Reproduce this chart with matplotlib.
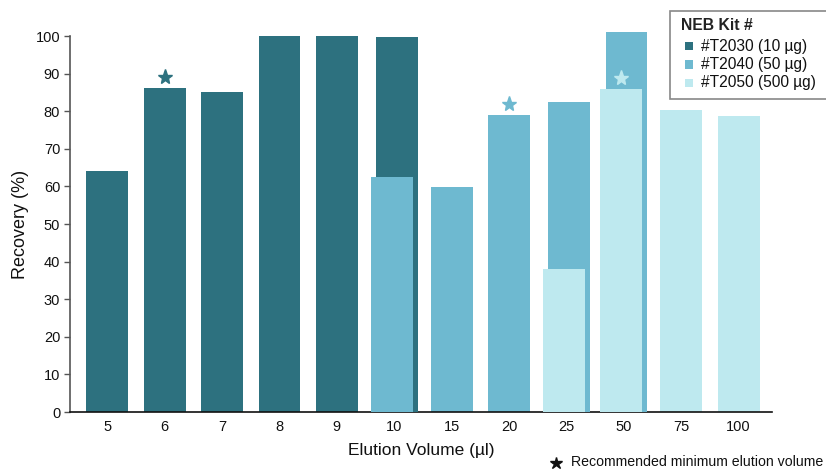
import matplotlib
matplotlib.use("Agg")
import matplotlib.pyplot as plt
from matplotlib.patches import Rectangle
from matplotlib.lines import Line2D

plt.rcParams['font.family'] = ['Liberation Sans', 'DejaVu Sans']

categories = ["5", "6", "7", "8", "9", "10", "15", "20", "25", "50", "75", "100"]

kit_names = ["#T2030 (10 µg)", "#T2040 (50 µg)", "#T2050 (500 µg)"]
kit_colors = ["#2D717F", "#6EB9D0", "#BEE9EF"]

t2030_cats = ["5", "6", "7", "8", "9", "10"]
t2030_vals = [64.1, 86.2, 85.1, 100.0, 100.0, 99.7]
t2040_cats = ["10", "15", "20", "25", "50"]
t2040_vals = [62.5, 59.8, 79.0, 82.4, 101.0]
t2050_cats = ["25", "50", "75", "100"]
t2050_vals = [38.0, 85.9, 80.3, 78.8]

recommended = {"#T2030 (10 µg)": "6", "#T2040 (50 µg)": "20", "#T2050 (500 µg)": "50"}

series = [(t2030_cats, t2030_vals), (t2040_cats, t2040_vals), (t2050_cats, t2050_vals)]

W, H = 826, 470
fig = plt.figure(figsize=(W / 100, H / 100), dpi=100)
ax = fig.add_axes([0.0847, 0.1234, 0.8499, 0.8000])

idx = {c: i for i, c in enumerate(categories)}
seen = {}
for cats, _ in series:
    for c in cats:
        seen[c] = seen.get(c, 0) + 1

width = 0.73
off = 0.045
count_done = {}
for (cats, vals), name, col in zip(series, kit_names, kit_colors):
    for c, v in zip(cats, vals):
        x = idx[c]
        if seen[c] > 1:
            k = count_done.get(c, 0)
            x = x + (off if k == 0 else -off)
            count_done[c] = k + 1
        ax.bar(x, v, width=width, color=col, clip_on=False, zorder=2 + count_done.get(c, 0))
        if recommended[name] == c:
            ax.plot(x, v + 3, marker='*', markersize=11, color=col, clip_on=False,
                    linestyle='none', zorder=5)

ax.set_xlim(-0.65, 11.58)
ax.set_ylim(0, 100)
ax.set_xticks(range(len(categories)))
ax.set_xticklabels(categories)
ax.set_yticks(range(0, 101, 10))
ax.tick_params(axis='x', length=0, labelsize=10.5, pad=6, colors='#111111')
ax.tick_params(axis='y', length=4, width=1, labelsize=10.5, colors='#111111', pad=3)
ax.tick_params(axis='y', color='#555555')
for s in ['top', 'right']:
    ax.spines[s].set_visible(False)
ax.spines['left'].set_color('#555555')
ax.spines['bottom'].set_color('#111111')
ax.spines['left'].set_linewidth(1.2)
ax.spines['bottom'].set_linewidth(1.2)

ax.set_xlabel("Elution Volume (µl)", fontsize=12.5, labelpad=6, color='#111111')
ax.set_ylabel("Recovery (%)", fontsize=13, labelpad=5, color='#111111')

# legend (frame extends past the right edge, as in the reference)
fig.patches.append(Rectangle((670 / W, 1 - 99 / H), 170 / W, 88 / H,
                             transform=fig.transFigure, facecolor='white',
                             edgecolor='#888888', linewidth=1.2, zorder=10))
fig.text(681 / W, 1 - 26 / H, "NEB Kit #", ha='left', va='center', fontsize=11.3,
         fontweight='bold', color='#222222', zorder=11)
row_y = [46, 64.5, 83]
for name, col, yy in zip(kit_names, kit_colors, row_y):
    fig.patches.append(Rectangle((685 / W, 1 - (yy + 4) / H), 8 / W, 8 / H,
                                 transform=fig.transFigure, facecolor=col,
                                 edgecolor='none', zorder=11))
    fig.text(701 / W, 1 - yy / H, name, ha='left', va='center', fontsize=11.2,
             color='#111111', zorder=11)

fig.text(823 / W, 1 - 462 / H, "Recommended minimum elution volume", ha='right', va='center',
         fontsize=10.2, color='#111111')
fig.add_artist(Line2D([556 / W], [1 - 463 / H], marker='*', markersize=9,
                      color='#111111', linestyle='none', transform=fig.transFigure))

fig.savefig("out.png", dpi=100)
